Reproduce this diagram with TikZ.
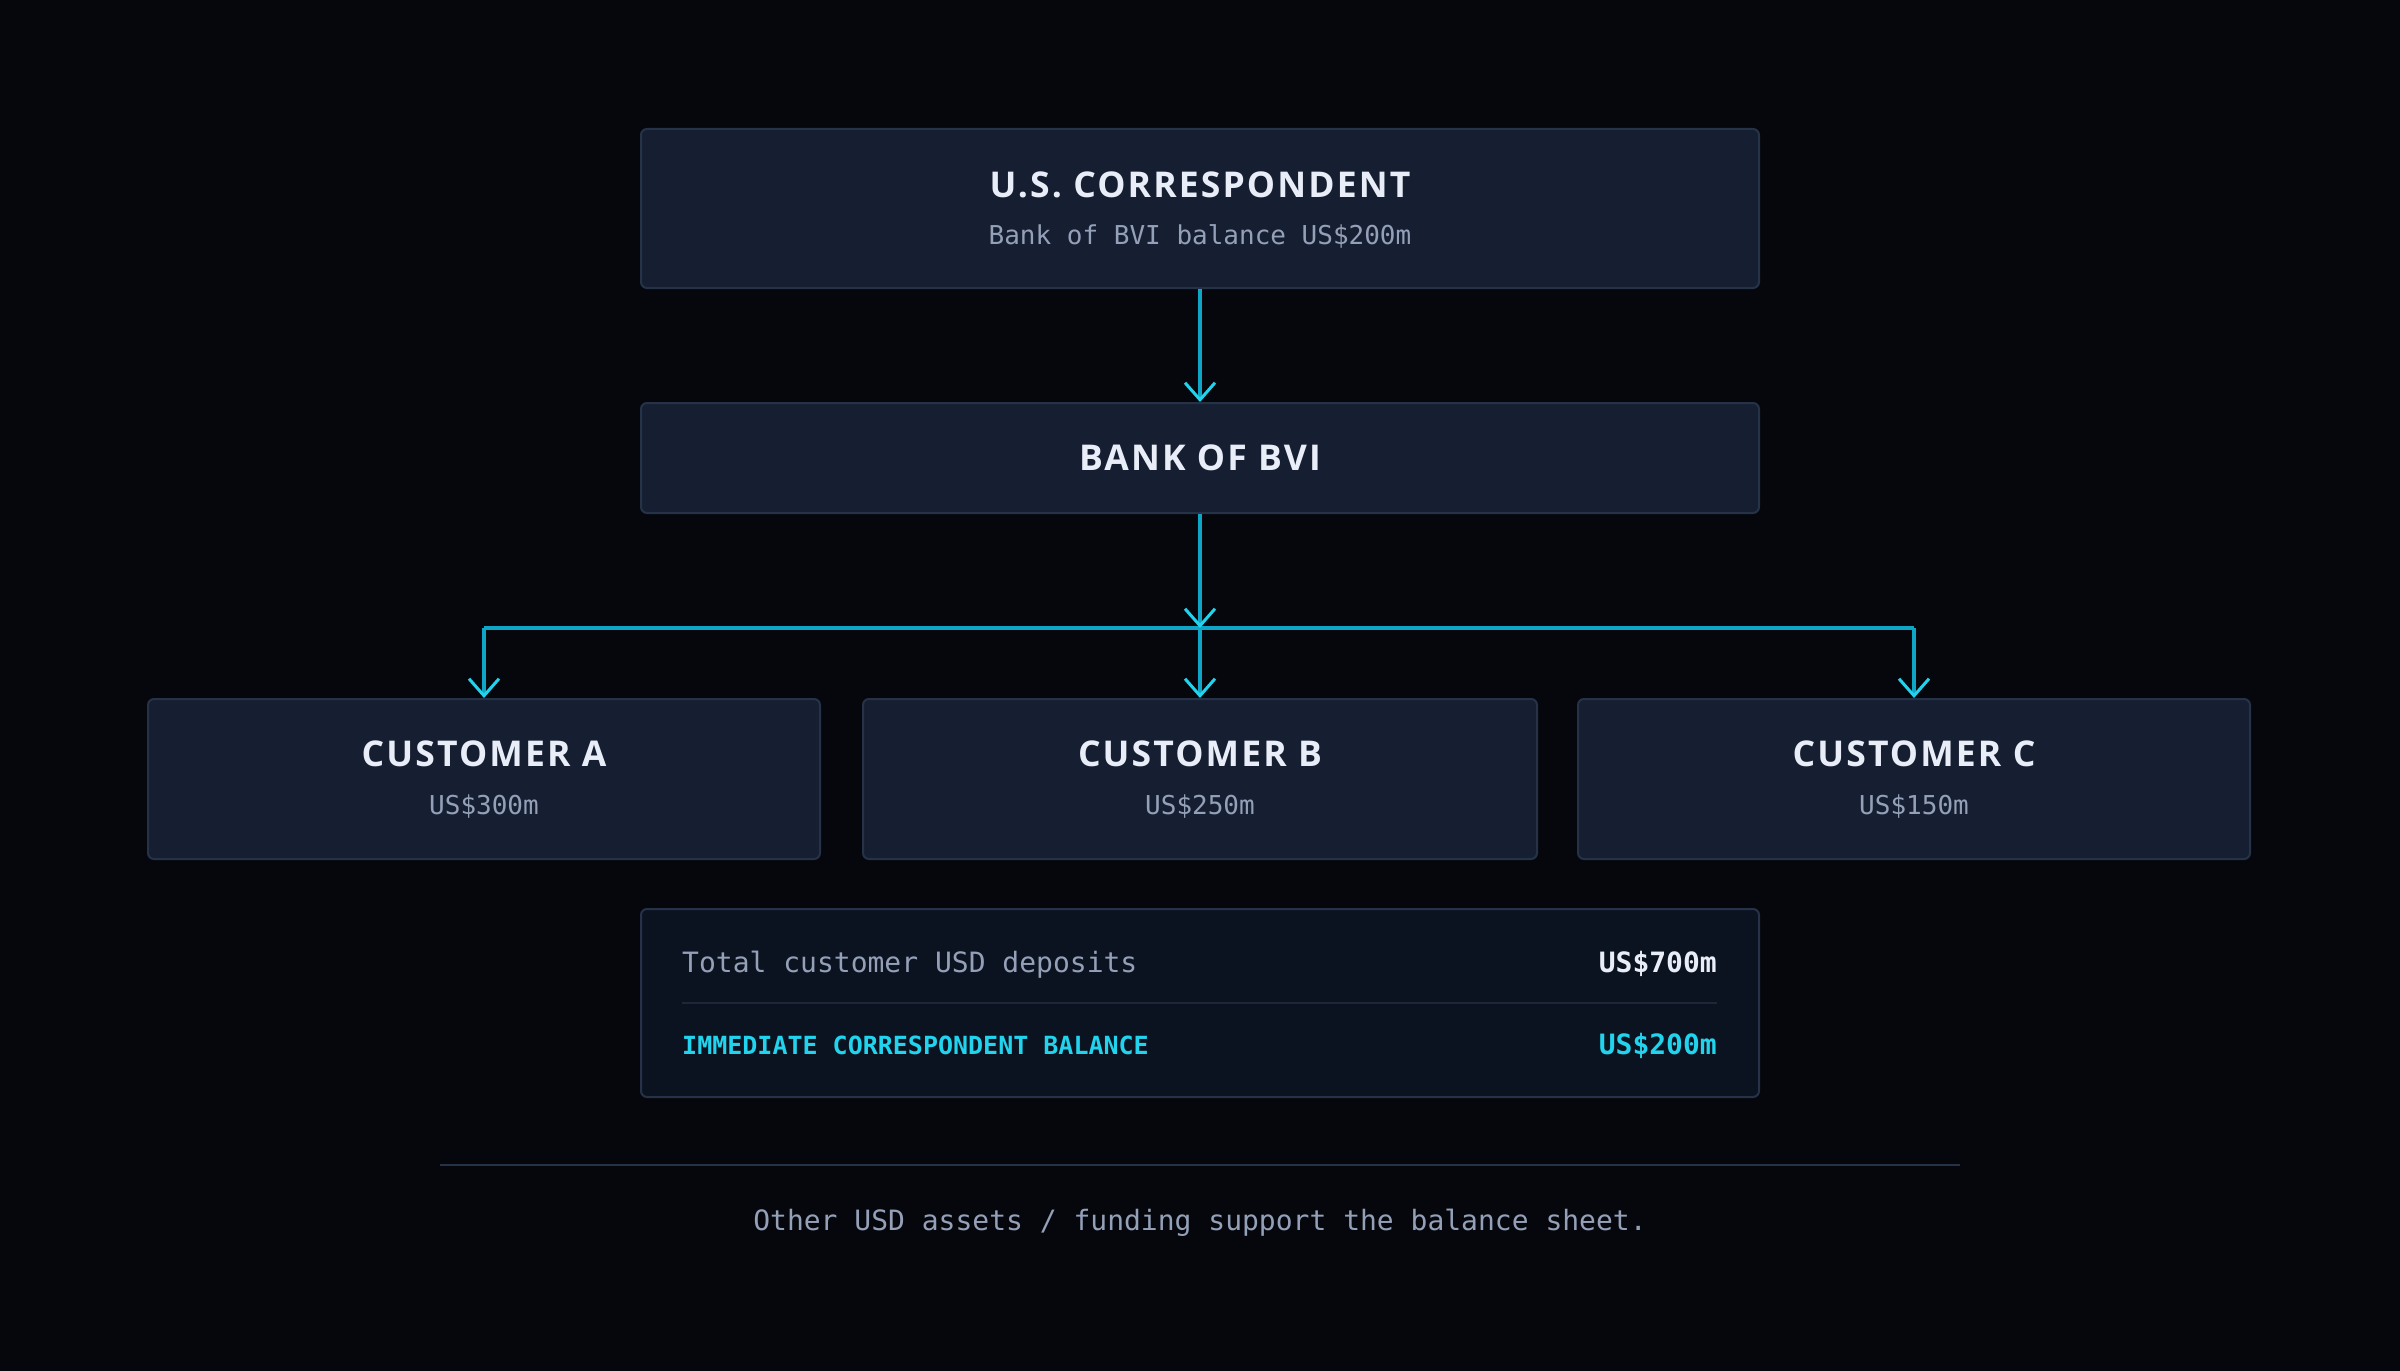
\documentclass[tikz,border=0pt]{standalone}
\usepackage{fontspec}
\usetikzlibrary{arrows.meta}
\newfontfamily\titlefont[LetterSpace=6]{Open Sans}
\newfontfamily\monofont{DejaVu Sans Mono}
\definecolor{bg}{HTML}{05070C}
\definecolor{boxfill}{HTML}{161F31}
\definecolor{boxline}{HTML}{263248}
\definecolor{sumfill}{HTML}{0C1320}
\definecolor{titlec}{HTML}{E8EDF7}
\definecolor{subc}{HTML}{94A0B8}
\definecolor{cyanl}{HTML}{0EA5C6}
\definecolor{cyanh}{HTML}{22D3EE}
\definecolor{divc}{HTML}{1E2738}
\tikzset{
  box/.style={draw=boxline, line width=2pt, fill=boxfill, rounded corners=6pt, inner sep=0pt},
  sumbox/.style={draw=boxline, line width=2pt, fill=sumfill, rounded corners=6pt, inner sep=0pt},
  ttl/.style={anchor=base, inner sep=0pt, text=titlec, font=\titlefont\bfseries\fontsize{35.5}{40}\selectfont},
  sub/.style={anchor=base, inner sep=0pt, text=subc, font=\monofont\fontsize{26}{30}\selectfont},
  conn/.style={draw=cyanl, line width=3.2pt},
  flow/.style={conn, -{Straight Barb[length=17pt,width=30pt,line width=3pt,color=cyanh]}},
}
\begin{document}
\begin{tikzpicture}[x=1pt,y=-1pt]
\useasboundingbox (0,0) rectangle (2400,1370);
\fill[bg] (-20,-20) rectangle (2420,1390);
% boxes
\node[box, minimum width=1118pt, minimum height=159pt] (us) at (1200,208.5) {};
\node[box, minimum width=1118pt, minimum height=110pt] (bank) at (1200,458) {};
\node[box, minimum width=672pt, minimum height=160pt] (ca) at (484,779) {};
\node[box, minimum width=674pt, minimum height=160pt] (cb) at (1200,779) {};
\node[box, minimum width=672pt, minimum height=160pt] (cc) at (1914,779) {};
\node[sumbox, minimum width=1118pt, minimum height=188pt] (sum) at (1200,1003) {};
% texts
\node[ttl] (ust) at (1200,197) {U.S. CORRESPONDENT};
\node[sub] (uss) at (1200,244) {Bank of BVI balance US\$200m};
\node[ttl] (bankt) at (1200,470) {BANK OF BVI};
\node[ttl] (cat) at (484,766) {CUSTOMER A};
\node[sub] (cas) at (484,814) {US\$300m};
\node[ttl] (cbt) at (1200,766) {CUSTOMER B};
\node[sub] (cbs) at (1200,814) {US\$250m};
\node[ttl] (cct) at (1914,766) {CUSTOMER C};
\node[sub] (ccs) at (1914,814) {US\$150m};
% summary
\node[anchor=base west, inner sep=0pt, text=subc, font=\monofont\fontsize{28}{32}\selectfont] (r1l) at (682,972) {Total customer USD deposits};
\node[anchor=base east, inner sep=0pt, text=titlec, font=\monofont\bfseries\fontsize{28}{32}\selectfont] (r1r) at (1717,972) {US\$700m};
\coordinate (dl) at (682,1003);
\coordinate (dr) at (1717,1003);
\draw[divc, line width=2pt] (dl) -- (dr);
\node[anchor=base west, inner sep=0pt, text=cyanh, font=\monofont\bfseries\fontsize{25}{30}\selectfont] (r2l) at (682,1054) {IMMEDIATE CORRESPONDENT BALANCE};
\node[anchor=base east, inner sep=0pt, text=cyanh, font=\monofont\bfseries\fontsize{28}{32}\selectfont] (r2r) at (1717,1054) {US\$200m};
% footer
\coordinate (fl) at (440,1165);
\coordinate (fr) at (1960,1165);
\draw[boxline, line width=2pt] (fl) -- (fr);
\node[anchor=base, inner sep=0pt, text=subc, font=\monofont\fontsize{28}{32}\selectfont] (foot) at (1200,1230) {Other USD assets / funding support the balance sheet.};
% connectors
\coordinate (j) at (1200,628);
\coordinate (ja) at (ca.north |- j);
\coordinate (jc) at (cc.north |- j);
\draw[flow] (us.south) -- (bank.north);
\draw[conn] (ja) -- (jc);
\draw[flow] (bank.south) -- (j);
\draw[flow] (ja) -- (ca.north);
\draw[flow] (j) -- (cb.north);
\draw[flow] (jc) -- (cc.north);
\end{tikzpicture}
\end{document}
